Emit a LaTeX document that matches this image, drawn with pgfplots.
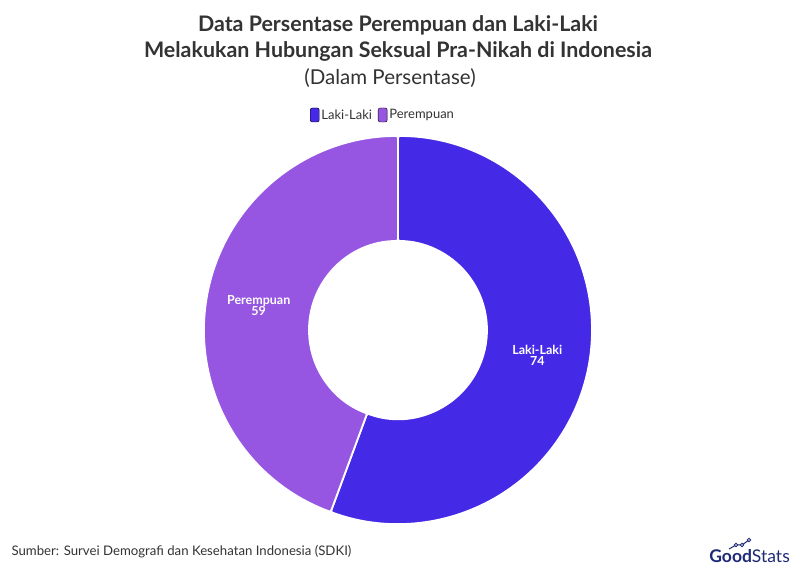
\documentclass[border=0pt]{standalone}
\usepackage{pgfplots}
\pgfplotsset{compat=1.18}
\usepackage{pgfplotstable}
\usepackage{fontspec}
\setmainfont{Lato}
\definecolor{laki}{HTML}{4429E6}
\definecolor{perem}{HTML}{9656E2}
\definecolor{txt}{HTML}{333333}
\definecolor{navy}{HTML}{1E2A78}

\pgfplotstableread{
label value
Laki-Laki 74
Perempuan 59
}\datatable
\pgfplotstablegetelem{0}{value}\of\datatable \let\va\pgfplotsretval
\pgfplotstablegetelem{1}{value}\of\datatable \let\vb\pgfplotsretval
\pgfmathsetmacro\total{\va+\vb}
\pgfmathsetmacro\angA{90-360*(\va/\total)}
\pgfmathsetmacro\angB{\angA-360*(\vb/\total)}
\pgfmathsetmacro\midA{(90+\angA)/2}
\pgfmathsetmacro\midB{(\angA+\angB)/2}

\newcommand\donutseg[3]{%
\fill[#1, draw=white, line width=1.8pt, rounded corners=2pt]
 (axis cs:{398+194*cos(#2)},{245+194*sin(#2)})
 arc[start angle=#2, end angle=#3, radius=194pt]
 -- (axis cs:{398+89*cos(#3)},{245+89*sin(#3)})
 arc[start angle=#3, end angle=#2, radius=89pt] -- cycle;}

\begin{document}
\begin{tikzpicture}
\begin{axis}[x=1pt, y=1pt, xmin=0, xmax=796, ymin=0, ymax=575,
  hide axis, clip=false,
  legend style={at={(axis cs:383,460)}, anchor=center, draw=none, fill=none,
    legend columns=-1, font=\fontsize{13}{15}\selectfont, text=txt,
    /tikz/column 2/.style={column sep=4pt}},
  legend image code/.code={\fill[#1, rounded corners=2pt] (0pt,-7pt) rectangle (9pt,7pt);},
]
\fill[white] (axis cs:0,0) rectangle (axis cs:796,575);
\addlegendimage{fill=laki}\addlegendentry{Laki-Laki}
\addlegendimage{fill=perem}\addlegendentry{Perempuan}

\donutseg{laki}{90}{\angA}
\donutseg{perem}{\angA}{\angB}

\node[white, font=\bfseries\fontsize{12.5}{12.5}\selectfont, align=center]
  at (axis cs:{398+141.5*cos(\midA)},{245+141.5*sin(\midA)}) {Laki-Laki\\[-1.5pt]\va};
\node[white, font=\bfseries\fontsize{12.5}{12.5}\selectfont, align=center]
  at (axis cs:{398+141.5*cos(\midB)},{245+141.5*sin(\midB)}) {Perempuan\\[-1.5pt]\vb};

\node[font=\bfseries\fontsize{21.4}{24}\selectfont, text=txt] at (axis cs:398,550) {Data Persentase Perempuan dan Laki-Laki};
\node[font=\bfseries\fontsize{21.4}{24}\selectfont, text=txt] at (axis cs:398,524) {Melakukan Hubungan Seksual Pra-Nikah di Indonesia};
\node[font=\fontsize{20.5}{24}\selectfont, text=txt] at (axis cs:390,497) {(Dalam Persentase)};

\node[anchor=west, font=\fontsize{13.2}{15}\selectfont, text=txt] at (axis cs:8,23) {Sumber: Survei Demografi dan Kesehatan Indonesia (SDKI)};

\node[anchor=east, text=navy, font=\fontsize{17.5}{18}\selectfont, inner sep=0pt] at (axis cs:790,19) {\textbf{Good}Stats};
\draw[navy, line width=1pt] (axis cs:729,26) -- (axis cs:736,30) -- (axis cs:742,30) -- (axis cs:749,35);
\draw[navy, fill=white, line width=0.8pt] (axis cs:736,30) circle[radius=1.7pt];
\draw[navy, fill=white, line width=0.8pt] (axis cs:742,30) circle[radius=1.7pt];
\draw[navy, fill=white, line width=0.8pt] (axis cs:749,35) circle[radius=1.7pt];
\end{axis}
\end{tikzpicture}
\end{document}
